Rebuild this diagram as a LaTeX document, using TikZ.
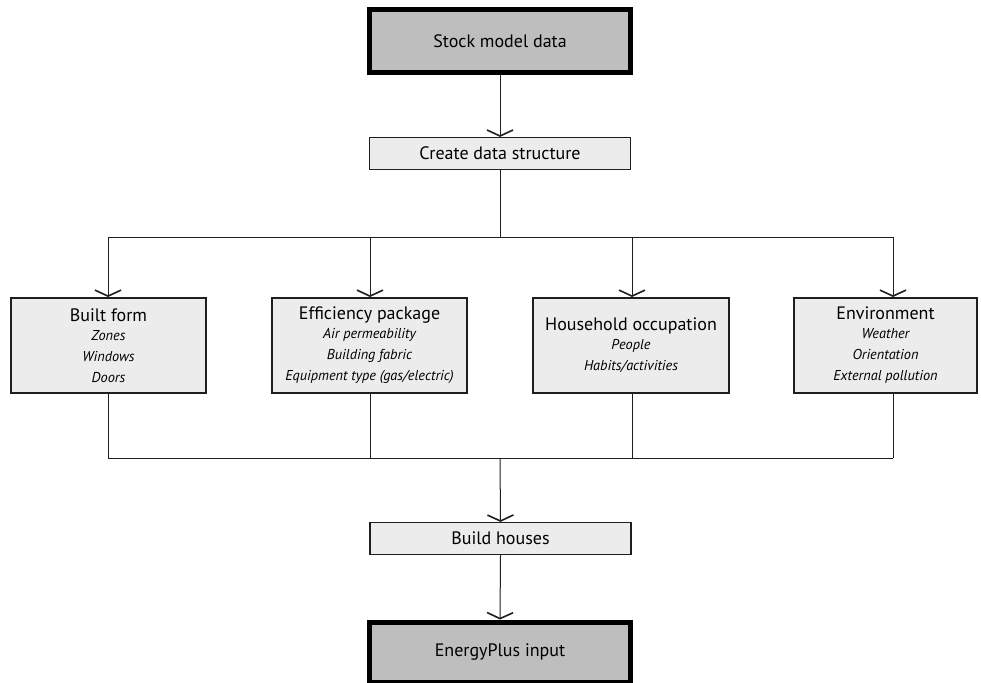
\documentclass[tikz,border=0pt]{standalone}
\usepackage{fontspec}
\setmainfont{PT Sans}
\usetikzlibrary{arrows.meta}
\definecolor{darkfill}{RGB}{190,190,190}
\definecolor{lightfill}{RGB}{236,236,236}
\definecolor{ink}{RGB}{30,30,30}
\tikzset{
  mainbox/.style={draw=black, line width=5pt, fill=darkfill, inner sep=0pt,
    minimum width=261pt, minimum height=63pt, font=\fontsize{18}{21}\selectfont},
  stepbox/.style={draw=ink, line width=1.2pt, fill=lightfill, inner sep=0pt,
    minimum width=261pt, minimum height=32pt, font=\fontsize{18}{21}\selectfont},
  catbox/.style={draw=ink, line width=2pt, fill=lightfill, inner sep=0pt,
    minimum height=95pt, align=center, font=\fontsize{18}{21}\selectfont},
  conn/.style={draw=ink, line width=1pt},
  arr/.style={conn, -{Straight Barb[length=6pt,width=26pt,line width=1.6pt]}},
}
\newcommand{\subl}[1]{{\fontsize{14.3}{18.5}\selectfont\itshape #1}}
\begin{document}
\begin{tikzpicture}[x=1pt,y=-1pt]
\useasboundingbox (0,0) rectangle (981,682);
\fill[white] (0,0) rectangle (981,682);

\node[mainbox] (stock) at (500,41) {Stock model data};
\node[stepbox] (create) at (500,153.5) {Create data structure};

\node[catbox, minimum width=195pt] (built) at (108.5,345.5)
  {Built form\\[-2pt]\subl{Zones}\\[0pt]\subl{Windows}\\[0pt]\subl{Doors}};
\node[catbox, minimum width=195pt] (eff) at (369.5,345.5)
  {Efficiency package\\[-2pt]\subl{Air permeability}\\[0pt]\subl{Building fabric}\\[0pt]\subl{Equipment type (gas/electric)}};
\node[catbox, minimum width=196pt] (house) at (631,345.5)
  {Household occupation\\[-2pt]\subl{People}\\[0pt]\subl{Habits/activities}};
\node[catbox, minimum width=183pt] (env) at (885.5,345.5)
  {Environment\\[-2pt]\subl{Weather}\\[0pt]\subl{Orientation}\\[0pt]\subl{External pollution}};

\node[stepbox] (build) at (500.5,538.5) {Build houses};
\node[mainbox, minimum height=60pt] (energy) at (500,652) {EnergyPlus input};

% upper bus
\coordinate (b1) at (500,237);
\coordinate (b1w) at (108,237);
\coordinate (b1a) at (370,237);
\coordinate (b1b) at (632,237);
\coordinate (b1e) at (893,237);
% lower bus
\coordinate (b2) at (500,458);
\coordinate (b2w) at (108,458);
\coordinate (b2a) at (370,458);
\coordinate (b2b) at (632,458);
\coordinate (b2e) at (893,458);

\draw[arr] (stock.south) -- (create.north);
\draw[conn] (create.south) -- (b1);
\draw[conn] (b1w) -- (b1e);
\draw[arr] (b1w) -- (b1w |- built.north);
\draw[arr] (b1a) -- (b1a |- eff.north);
\draw[arr] (b1b) -- (b1b |- house.north);
\draw[arr] (b1e) -- (b1e |- env.north);

\draw[conn] (b2w |- built.south) -- (b2w);
\draw[conn] (b2a |- eff.south) -- (b2a);
\draw[conn] (b2b |- house.south) -- (b2b);
\draw[conn] (b2e |- env.south) -- (b2e);
\draw[conn] (b2w) -- (b2e);
\draw[arr] (b2) -- (build.north);
\draw[arr] (build.south) -- (energy.north);
\end{tikzpicture}
\end{document}
